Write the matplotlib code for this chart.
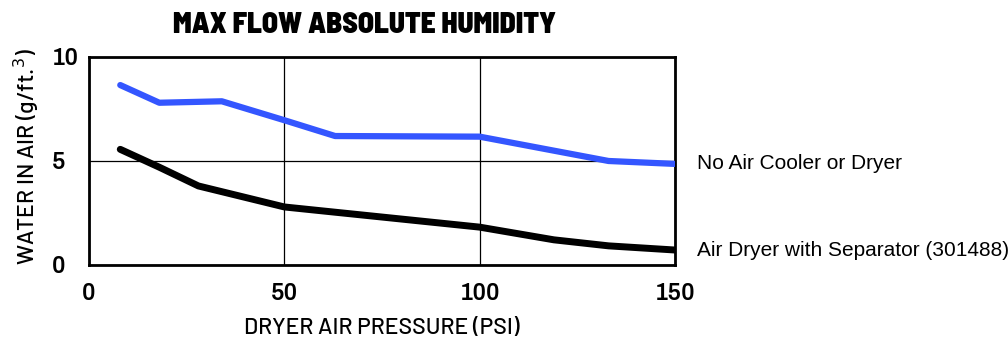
import matplotlib.pyplot as plt

# pressure (psi) vs. water content (g/ft^3)
pressure_no_dryer = [8, 18, 34, 50, 63, 100, 133, 150]
water_no_dryer = [8.65, 7.8, 7.87, 6.96, 6.2, 6.17, 5.0, 4.86]

pressure_dryer = [8, 18, 28, 50, 100, 119, 133, 150]
water_dryer = [5.56, 4.7, 3.8, 2.79, 1.82, 1.21, 0.92, 0.72]

series_names = ["No Air Cooler or Dryer", "Air Dryer with Separator (301488)"]

x_ticks = [0, 50, 100, 150]
y_ticks = [0, 5, 10]

title_font = ["Barlow Semi Condensed", "Archivo Narrow", "DejaVu Sans"]
label_font = ["Barlow", "Archivo Narrow", "DejaVu Sans"]
tick_font = ["Archivo", "Liberation Sans", "DejaVu Sans"]
plain = ["Liberation Sans", "DejaVu Sans"]

fig = plt.figure(figsize=(10.08, 3.41), dpi=100)
ax = fig.add_axes([0.0883, 0.2229, 0.5813, 0.61])

ax.plot(pressure_no_dryer, water_no_dryer, color="#3456ff", lw=4.5,
        solid_capstyle="round", solid_joinstyle="round", zorder=3)
ax.plot(pressure_dryer, water_dryer, color="black", lw=5,
        solid_capstyle="round", solid_joinstyle="round", zorder=3)

ax.set_xlim(0, 150)
ax.set_ylim(0, 10)
ax.set_xticks(x_ticks)
ax.set_yticks(y_ticks)
ax.tick_params(axis="x", length=0, labelsize=17, pad=13)
ax.tick_params(axis="y", length=0, labelsize=17, pad=27)
for lbl in ax.get_xticklabels() + ax.get_yticklabels():
    lbl.set_fontfamily(tick_font)
    lbl.set_fontweight("normal")
for lbl in ax.get_yticklabels():
    lbl.set_horizontalalignment("left")
ax.grid(True, color="black", lw=0.9)
for s in ax.spines.values():
    s.set_linewidth(2)

ax.set_xlabel("DRYER AIR PRESSURE (PSI)", fontsize=16.5, family=label_font,
              fontweight=500, labelpad=10)
fig.text(0.026, 0.54, "WATER IN AIR (g/ft.$^3$)", rotation=90, ha="center", va="center",
         fontsize=16.5, family=label_font, fontweight=500)

fig.text(0.362, 0.928, "MAX FLOW ABSOLUTE HUMIDITY", ha="center", va="center",
         fontsize=21, family=title_font, fontweight=900)

# series labels to the right of the plot, level with each line's end
for name, yend in zip(series_names, [water_no_dryer[-1], water_dryer[-1]]):
    ax.annotate(name, xy=(1, yend), xycoords=("axes fraction", "data"),
                xytext=(16, 0), textcoords="offset points", va="center",
                fontsize=15, family=plain)

fig.savefig("out.png", dpi=100)
